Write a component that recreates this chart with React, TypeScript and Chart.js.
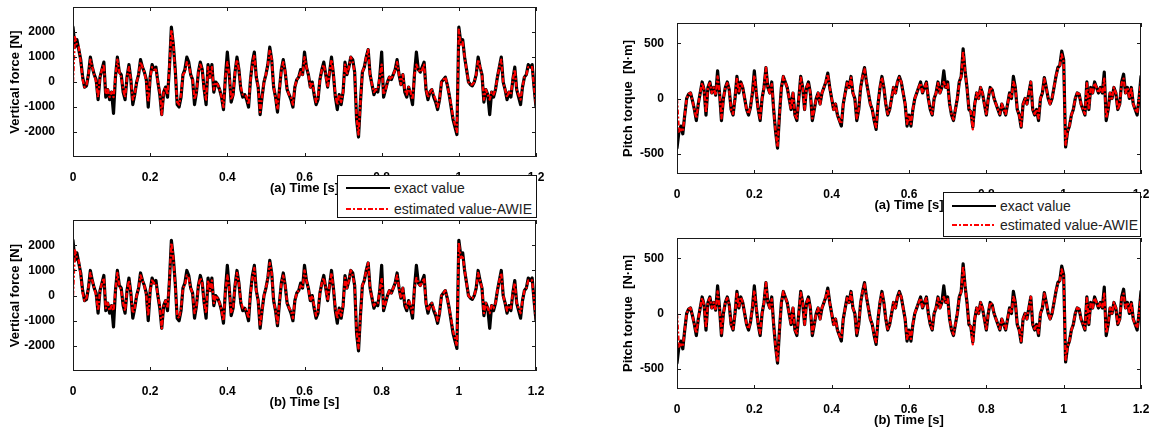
import React, { useEffect, useRef } from "react";
import { Chart, registerables } from "chart.js";

Chart.register(...registerables);

// ---------------- data ----------------
const TIME_STEP = 0.005; // s, sampling of the traced curves (0 .. 1.2 s)

const forceExact = [
  2200, 1400, 1700, 1300, 900, 200, -200, -150, 300, 1000,
  600, 300, 100, -700, 200, 500, 800, -600, -300, -700,
  -400, -1250, 200, 1000, 400, 300, -400, -700, 200, 700,
  100, -900, -500, 0, 300, 900, 600, 400, 100, -1000,
  200, 700, 500, 600, 0, -500, -1300, -400, -200, -600,
  600, 2200, 1500, 500, -900, -1000, -600, 300, 500, 1000,
  800, 300, 100, -900, -400, 400, 800, 500, -300, -900,
  700, 200, 700, -400, 0, -100, -300, -600, -1100, 200,
  1200, 300, -800, -500, 400, 1000, 500, -300, -600, -500,
  -700, -1000, 100, 800, 1200, 200, -200, -1300, -600, 0,
  300, 700, 1400, 900, -200, -600, -1200, -300, 500, 900,
  400, -300, -500, -700, -1000, -200, 100, 200, 500, 300,
  1200, 600, 300, -200, 0, -500, -900, -700, 100, 500,
  800, 300, -200, 400, 1000, 300, -600, -1100, -500, -900,
  -400, 800, 300, 600, 1000, 900, 400, -1500, -2200, -800,
  400, 600, 1000, 1300, 300, -100, -500, -300, -400, 200,
  1200, -600, -300, 0, 200, 100, 300, 500, 900, 300,
  -100, 300, -400, -600, -200, -500, -900, 300, 1200, 500,
  400, 600, 800, -300, -700, -400, -300, -600, -800, -1100,
  -700, 0, 100, 200, -100, -500, -1000, -1500, -1800, -2100,
  2200, 1600, 1700, 1000, 500, 0, -100, -150, 0, 300,
  1000, 600, 300, -800, -300, -500, -1300, -400, -600, -300,
  200, 600, 1000, 0, -300, -700, -400, -600, 100, 600,
  -300, -600, -900, -200, 200, 300, 700, 600, 700, -200,
  -1000,
];

const forceEstimated = [
  0, 1800, 1500, 1400, 800, 100, -200, -100, 300, 900,
  600, 300, 0, -600, 200, 500, 700, -500, -300, -600,
  -400, -600, 200, 900, 400, 200, -300, -600, 200, 600,
  100, -700, -500, 0, 300, 800, 600, 400, 0, -800,
  200, 600, 500, 500, 0, -400, -1300, -400, -200, -500,
  600, 2100, 1500, 400, -800, -900, -500, 300, 400, 800,
  700, 300, 100, -700, -400, 400, 700, 500, -300, -700,
  600, 200, 600, -300, 0, -100, -300, -600, -1000, 200,
  800, 300, -700, -500, 400, 900, 500, -200, -500, -500,
  -600, -900, 100, 700, 1100, 200, -200, -1200, -600, 0,
  300, 700, 1300, 900, -200, -600, -1100, -300, 500, 800,
  400, -300, -500, -600, -900, -200, 100, 200, 400, 300,
  1000, 600, 300, -200, 0, -400, -800, -600, 100, 500,
  700, 300, -200, 400, 900, 300, -500, -900, -500, -800,
  -400, 700, 300, 600, 1000, 800, 400, -1400, -2100, -800,
  400, 600, 1000, 1300, 300, -100, -400, -300, -300, 200,
  700, -500, -300, 0, 200, 100, 300, 500, 800, 300,
  -100, 300, -300, -500, -200, -400, -700, 300, 700, 500,
  400, 500, 700, -300, -600, -400, -300, -500, -700, -1000,
  -700, 0, 100, 200, -100, -500, -900, -1400, -1700, -2000,
  2100, 1500, 1600, 1000, 500, 0, -100, -100, 0, 300,
  900, 600, 300, -700, -300, -500, -700, -400, -500, -300,
  200, 600, 900, 0, -300, -600, -400, -500, 100, 500,
  -300, -500, -700, -200, 200, 300, 600, 600, 600, -200,
  -900,
];

const torqueExact = [
  -450, -300, -250, -320, -150, 0, 40, 50, -20, -100,
  -200, -50, 50, 150, 80, -150, 100, 150, 50, 100,
  30, 250, 50, -200, 0, 100, 150, 80, -100, -150,
  0, 200, 50, 150, 100, 0, -100, -150, -80, 50,
  250, 50, -100, -200, 0, 100, 280, 100, 50, 150,
  -100, -300, -450, -150, 100, 200, 150, 100, 0, -100,
  50, -150, -200, 0, 200, 100, -100, 100, 150, 50,
  -200, -100, 0, 50, -50, 50, 100, 150, 230, 100,
  0, -100, -50, -150, -200, -250, -50, 50, 150, 100,
  200, 50, 0, -200, -100, 100, 200, 280, 150, 50,
  -50, -100, -200, -280, -50, 100, 200, 100, -50, -150,
  -100, 0, 100, 50, 150, 200, 150, 50, -50, -250,
  -150, -250, -100, 0, 50, 100, 150, 50, 100, 150,
  0, -100, -150, 0, 50, 150, 50, 100, 250, 100,
  150, -50, -150, -200, -100, 0, 150, 200, 450, 250,
  100, -100, -120, -260, -50, 50, 0, 100, 50, -50,
  -150, 0, 100, 80, 0, -50, -100, -150, -50, -100,
  -150, -50, 50, 0, 200, 100, -100, -150, -260, -50,
  0, -50, 50, 150, -100, -150, -100, -200, 0, 50,
  190, 100, 0, -50, 0, 100, 200, 280, 300, 430,
  350, -440, -300, -250, -150, -100, 0, 50, 40, -50,
  -100, -150, 150, -100, 100, 50, 150, 100, 50, 100,
  50, 240, -200, -100, 50, 0, 100, 50, -100, -50,
  150, 220, 50, 100, 0, 100, -50, -100, -150, 0,
  200,
];

const torqueEstimated = [
  0, -300, -280, -300, -150, 0, 40, 50, -20, -100,
  -180, -50, 50, 140, 80, -130, 100, 140, 50, 100,
  30, 200, 50, -180, 0, 100, 140, 80, -100, -140,
  0, 190, 50, 150, 100, 0, -100, -140, -80, 50,
  210, 50, -100, -180, 0, 100, 280, 100, 50, 130,
  -100, -300, -440, -150, 100, 200, 150, 100, 0, -100,
  50, -150, -180, 0, 190, 100, -100, 100, 140, 50,
  -180, -100, 0, 50, -50, 50, 100, 150, 220, 100,
  0, -100, -50, -150, -200, -230, -50, 50, 140, 100,
  190, 50, 0, -180, -100, 100, 200, 270, 150, 50,
  -50, -100, -200, -260, -50, 100, 190, 100, -50, -140,
  -100, 0, 100, 50, 150, 190, 150, 50, -50, -230,
  -150, -230, -100, 0, 50, 100, 140, 50, 100, 140,
  0, -100, -140, 0, 50, 140, 50, 100, 150, 100,
  130, -50, -140, -190, -100, 0, 140, 200, 430, 250,
  100, -100, -120, -280, -50, 50, 0, 100, 50, -50,
  -140, 0, 100, 80, 0, -50, -100, -140, -50, -100,
  -140, -50, 50, 0, 150, 100, -100, -150, -250, -50,
  0, -50, 50, 150, -100, -140, -100, -180, 0, 50,
  180, 100, 0, -50, 0, 100, 200, 270, 300, 400,
  330, -420, -300, -250, -150, -100, 0, 50, 40, -50,
  -100, -140, 140, -100, 100, 50, 140, 100, 50, 100,
  50, 180, -180, -100, 50, 0, 100, 50, -100, -50,
  140, 180, 50, 100, 0, 100, -50, -100, -130, 0,
  150,
];

const timeTicks = [0, 0.2, 0.4, 0.6, 0.8, 1, 1.2];
const timeTickLabels = ["0", "0.2", "0.4", "0.6", "0.8", "1", "1.2"];
const forceTicks = [-2000, -1000, 0, 1000, 2000];
const torqueTicks = [-500, 0, 500];
const seriesNames = ["exact value", "estimated value-AWIE"];
const xTitles = ["(a) Time [s]", "(b) Time [s]"];
const yTitles = ["Vertical force [N]", "Pitch torque  [N·m]"];

// ---------------- styling / layout ----------------
const FONT = '"Liberation Sans", Arial, Helvetica, sans-serif';
const TICK_FONT = { family: FONT, size: 12, weight: "bold" as const };
const TITLE_FONT = { family: FONT, size: 13, weight: "bold" as const };
const EXACT_COLOR = "#000000";
const EST_COLOR = "#ff0000";
const DASH = [5, 2, 2, 2];

type PanelSpec = {
  key: string;
  L: number; T: number; R: number; B: number; // plot area in page px
  yW: number; // width reserved left of plot area
  yTickPad: number;
  yTitlePad: number;
  xTitle: string;
  yTitle: string;
  exact: number[];
  est: number[];
  yMin: number;
  yMax: number;
  yTicks: number[];
};

const PAD_TOP = 16;
const PAD_RIGHT = 16;
const X_H = 42;

const panels: PanelSpec[] = [
  { key: "fa", L: 73, T: 6, R: 536, B: 157, yW: 73, yTickPad: 10, yTitlePad: 8,
    xTitle: xTitles[0], yTitle: yTitles[0], exact: forceExact, est: forceEstimated,
    yMin: -3000, yMax: 3000, yTicks: forceTicks },
  { key: "fb", L: 73, T: 219, R: 536, B: 371, yW: 73, yTickPad: 10, yTitlePad: 8,
    xTitle: xTitles[1], yTitle: yTitles[0], exact: forceExact, est: forceEstimated,
    yMin: -3000, yMax: 3000, yTicks: forceTicks },
  { key: "ta", L: 677, T: 23, R: 1141, B: 174, yW: 70, yTickPad: 5, yTitlePad: 14,
    xTitle: xTitles[0], yTitle: yTitles[1], exact: torqueExact, est: torqueEstimated,
    yMin: -685, yMax: 685, yTicks: torqueTicks },
  { key: "tb", L: 677, T: 238, R: 1141, B: 389, yW: 70, yTickPad: 5, yTitlePad: 14,
    xTitle: xTitles[1], yTitle: yTitles[1], exact: torqueExact, est: torqueEstimated,
    yMin: -685, yMax: 685, yTicks: torqueTicks },
];

const framePlugin = {
  id: "matlabFrame",
  afterDatasetsDraw(chart: any) {
    const { ctx, chartArea: a, scales } = chart;
    const l = Math.round(a.left), t = Math.round(a.top);
    const r = Math.round(a.right), b = Math.round(a.bottom);
    ctx.save();
    ctx.strokeStyle = "#1a1a1a";
    ctx.lineWidth = 1;
    ctx.strokeRect(l + 0.5, t + 0.5, r - l - 1, b - t - 1);
    const tl = 4;
    ctx.beginPath();
    scales.x.ticks.forEach((tk: any) => {
      const px = Math.round(scales.x.getPixelForValue(tk.value)) + 0.5;
      ctx.moveTo(px, b); ctx.lineTo(px, b - tl);
      ctx.moveTo(px, t); ctx.lineTo(px, t + tl);
    });
    scales.y.ticks.forEach((tk: any) => {
      const py = Math.round(scales.y.getPixelForValue(tk.value)) + 0.5;
      ctx.moveTo(l, py); ctx.lineTo(l + tl, py);
      ctx.moveTo(r, py); ctx.lineTo(r - tl, py);
    });
    ctx.stroke();
    ctx.restore();
  },
};

function toPoints(values: number[]) {
  return values.map((v, i) => ({ x: i * TIME_STEP, y: v }));
}

function Panel({ spec }: { spec: PanelSpec }) {
  const ref = useRef<HTMLCanvasElement>(null);
  const left = spec.L - spec.yW;
  const top = spec.T - PAD_TOP;
  const width = spec.yW + (spec.R - spec.L) + PAD_RIGHT;
  const height = PAD_TOP + (spec.B - spec.T) + X_H;

  useEffect(() => {
    if (!ref.current) return;
    const chart = new Chart(ref.current, {
      type: "line",
      data: {
        datasets: [
          {
            label: seriesNames[0],
            data: toPoints(spec.exact),
            borderColor: EXACT_COLOR,
            borderWidth: 3.2,
            borderJoinStyle: "round",
            borderCapStyle: "round",
            pointRadius: 0,
            tension: 0,
            fill: false,
            order: 2,
          },
          {
            label: seriesNames[1],
            data: toPoints(spec.est),
            borderColor: EST_COLOR,
            borderWidth: 2.3,
            borderDash: DASH,
            borderJoinStyle: "round",
            pointRadius: 0,
            tension: 0,
            fill: false,
            order: 1,
          },
        ],
      },
      options: {
        animation: false,
        responsive: false,
        devicePixelRatio: 1,
        layout: { padding: { top: PAD_TOP, right: PAD_RIGHT, left: 0, bottom: 0 } },
        plugins: { legend: { display: false }, tooltip: { enabled: false } },
        events: [],
        scales: {
          x: {
            type: "linear",
            min: 0,
            max: 1.2,
            afterBuildTicks: (s: any) => {
              s.ticks = timeTicks.map((v) => ({ value: v }));
            },
            afterFit: (s: any) => {
              s.height = X_H;
            },
            grid: { display: false },
            border: { display: false },
            ticks: {
              autoSkip: false,
              maxRotation: 0,
              padding: 5,
              color: "#000",
              font: TICK_FONT,
              callback: (_v: any, i: number) => timeTickLabels[i],
            },
            title: {
              display: true,
              text: spec.xTitle,
              color: "#000",
              font: TITLE_FONT,
              padding: { top: 0, bottom: 3 },
            },
          },
          y: {
            type: "linear",
            min: spec.yMin,
            max: spec.yMax,
            afterBuildTicks: (s: any) => {
              s.ticks = spec.yTicks.map((v) => ({ value: v }));
            },
            afterFit: (s: any) => {
              s.width = spec.yW;
            },
            grid: { display: false },
            border: { display: false },
            ticks: {
              autoSkip: false,
              padding: spec.yTickPad,
              color: "#000",
              font: TICK_FONT,
              callback: (v: any) => String(v),
            },
            title: {
              display: true,
              text: spec.yTitle,
              color: "#000",
              font: TITLE_FONT,
              padding: { top: spec.yTitlePad, bottom: 0 },
            },
          },
        },
      },
      plugins: [framePlugin],
    } as any);
    return () => chart.destroy();
  }, []);

  return (
    <canvas
      ref={ref}
      width={width}
      height={height}
      style={{ position: "absolute", left, top, width, height }}
    />
  );
}

type LegendSpec = { key: string; left: number; top: number; width: number; height: number; rows: number[] };

const legends: LegendSpec[] = [
  { key: "lgL", left: 337, top: 175, width: 200, height: 43, rows: [12, 33] },
  { key: "lgR", left: 943, top: 192, width: 198, height: 45, rows: [13, 32] },
];

function LegendBox({ spec }: { spec: LegendSpec }) {
  const sample = (i: number) => (
    <svg
      width={44}
      height={4}
      style={{ position: "absolute", left: 8, top: spec.rows[i] - 2 }}
    >
      <line
        x1={0}
        y1={2}
        x2={44}
        y2={2}
        stroke={i === 0 ? EXACT_COLOR : EST_COLOR}
        strokeWidth={2}
        strokeDasharray={i === 0 ? undefined : DASH.join(" ")}
      />
    </svg>
  );
  const label = (i: number) => (
    <div
      style={{
        position: "absolute",
        left: 56,
        top: spec.rows[i] - 9,
        height: 18,
        lineHeight: "18px",
        fontFamily: FONT,
        fontSize: 14,
        color: "#222",
        whiteSpace: "nowrap",
      }}
    >
      {seriesNames[i]}
    </div>
  );
  return (
    <div
      style={{
        position: "absolute",
        left: spec.left,
        top: spec.top,
        width: spec.width,
        height: spec.height,
        boxSizing: "border-box",
        border: "1px solid #111",
        background: "#fff",
        zIndex: 5,
      }}
    >
      {sample(0)}
      {label(0)}
      {sample(1)}
      {label(1)}
    </div>
  );
}

export default function App() {
  return (
    <div
      style={{
        position: "fixed",
        left: 0,
        top: 0,
        width: 1157,
        height: 432,
        background: "#fff",
        overflow: "hidden",
      }}
    >
      {panels.map((p) => (
        <Panel key={p.key} spec={p} />
      ))}
      {legends.map((l) => (
        <LegendBox key={l.key} spec={l} />
      ))}
    </div>
  );
}
